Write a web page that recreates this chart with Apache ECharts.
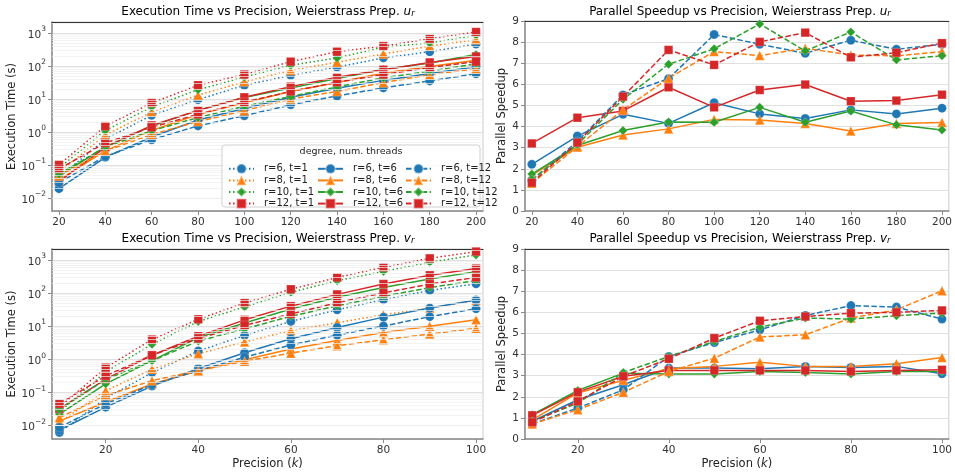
<!DOCTYPE html>
<html><head><meta charset="utf-8">
<script src="https://cdn.jsdelivr.net/npm/echarts@6/dist/echarts.min.js"></script>
<style>html,body{margin:0;padding:0;background:#fff}#c{width:955px;height:474px}</style>
</head><body><div id="c"></div><script>
// ---------- data ----------
const precisionU = [20, 40, 60, 80, 100, 120, 140, 160, 180, 200];
const precisionV = [10, 20, 30, 40, 50, 60, 70, 80, 90, 100];
const degrees = ['6', '8', '10', '12'];
const threads = ['1', '6', '12'];

// Execution time, Weierstrass prep. u_r
const uTime_r6_t1  = [0.042, 0.6, 3.2, 9.5, 26, 52, 92, 175, 270, 460];
const uTime_r8_t1  = [0.06, 0.8, 4.0, 13, 33, 73, 130, 230, 400, 620];
const uTime_r10_t1 = [0.08, 1.1, 5.7, 19, 46, 105, 175, 370, 500, 850];
const uTime_r12_t1 = [0.1, 1.5, 7.5, 26, 55, 135, 270, 400, 670, 1070];
const uTime_r6_t6  = [0.019, 0.17, 0.70, 2.3, 5.1, 11.3, 21, 36.5, 58.7, 94.5];
const uTime_r8_t6  = [0.035, 0.265, 1.11, 3.34, 7.6, 16.9, 31.3, 60.7, 96.4, 148];
const uTime_r10_t6 = [0.046, 0.355, 1.5, 4.5, 11.0, 21.4, 41.7, 78, 122.5, 221];
const uTime_r12_t6 = [0.031, 0.339, 1.58, 4.44, 11.2, 23.6, 45.1, 76.9, 128, 194];
const uTime_r6_t12  = [0.029, 0.18, 0.58, 1.52, 3.1, 6.6, 12.3, 21.6, 35.2, 58.2];
const uTime_r8_t12  = [0.046, 0.262, 0.835, 2.07, 4.37, 9.9, 16.9, 31.1, 54.4, 82];
const uTime_r10_t12 = [0.053, 0.349, 1.08, 2.73, 5.99, 11.85, 23.1, 43.6, 69.8, 115.6];
const uTime_r12_t12 = [0.075, 0.463, 1.38, 3.41, 7.95, 16.9, 32, 55, 89.3, 134.6];

// Parallel speedup, u_r
const uSpeed_r6_t6  = [2.21, 3.55, 4.58, 4.15, 5.13, 4.6, 4.38, 4.79, 4.6, 4.87];
const uSpeed_r8_t6  = [1.7, 3.02, 3.6, 3.89, 4.34, 4.31, 4.15, 3.79, 4.15, 4.19];
const uSpeed_r10_t6 = [1.75, 3.1, 3.81, 4.22, 4.2, 4.91, 4.2, 4.74, 4.08, 3.84];
const uSpeed_r12_t6 = [3.2, 4.42, 4.74, 5.86, 4.91, 5.73, 5.99, 5.2, 5.23, 5.51];
const uSpeed_r6_t12  = [1.45, 3.3, 5.5, 6.27, 8.36, 7.9, 7.47, 8.09, 7.66, 7.9];
const uSpeed_r8_t12  = [1.31, 3.05, 4.79, 6.29, 7.55, 7.36, 7.71, 7.39, 7.35, 7.55];
const uSpeed_r10_t12 = [1.5, 3.15, 5.29, 6.95, 7.68, 8.86, 7.58, 8.48, 7.16, 7.35];
const uSpeed_r12_t12 = [1.34, 3.24, 5.42, 7.63, 6.92, 8.01, 8.45, 7.28, 7.5, 7.95];

// Execution time, Weierstrass prep. v_r
const vTime_r6_t1  = [0.006, 0.065, 0.39, 1.75, 5.2, 13.8, 31, 63, 120, 190];
const vTime_r8_t1  = [0.012, 0.11, 0.49, 1.45, 3.3, 7.3, 12.6, 22, 35, 60];
const vTime_r10_t1 = [0.025, 0.41, 2.8, 13.7, 38, 105, 235, 450, 850, 1420];
const vTime_r12_t1 = [0.035, 0.55, 3.9, 16, 50, 130, 295, 600, 1120, 1800];
const vTime_r6_t6  = [0.0071, 0.035, 0.152, 0.52, 1.55, 4.14, 9.0, 18.6, 34.9, 61.5];
const vTime_r8_t6  = [0.0132, 0.05, 0.176, 0.435, 0.96, 2.01, 3.66, 6.4, 9.8, 15.5];
const vTime_r10_t6 = [0.0217, 0.178, 0.9, 4.45, 12.3, 32.8, 74.6, 146, 266, 444];
const vTime_r12_t6 = [0.031, 0.248, 1.31, 4.92, 15.4, 40, 90.8, 187.5, 345, 549];
const vTime_r6_t12  = [0.0085, 0.044, 0.167, 0.45, 1.14, 2.67, 5.3, 10.0, 19.2, 33.5];
const vTime_r8_t12  = [0.0169, 0.079, 0.222, 0.453, 0.86, 1.51, 2.55, 3.84, 5.72, 8.55];
const vTime_r10_t12 = [0.0298, 0.241, 0.89, 3.5, 8.2, 19.8, 41, 79, 146, 238];
const vTime_r12_t12 = [0.044, 0.309, 1.31, 4.21, 10.5, 23.2, 50.9, 100.7, 187, 296];

// Parallel speedup, v_r
const vSpeed_r6_t6  = [0.84, 1.86, 2.57, 3.36, 3.36, 3.33, 3.44, 3.39, 3.44, 3.09];
const vSpeed_r8_t6  = [0.91, 2.18, 2.78, 3.33, 3.44, 3.63, 3.44, 3.44, 3.56, 3.86];
const vSpeed_r10_t6 = [1.15, 2.3, 3.12, 3.08, 3.08, 3.2, 3.15, 3.08, 3.2, 3.2];
const vSpeed_r12_t6 = [1.12, 2.22, 2.97, 3.25, 3.25, 3.25, 3.25, 3.2, 3.25, 3.28];
const vSpeed_r6_t12  = [0.71, 1.47, 2.33, 3.91, 4.57, 5.17, 5.85, 6.32, 6.25, 5.68];
const vSpeed_r8_t12  = [0.71, 1.39, 2.21, 3.2, 3.83, 4.83, 4.94, 5.73, 6.12, 7.02];
const vSpeed_r10_t12 = [0.84, 1.7, 3.15, 3.91, 4.62, 5.3, 5.73, 5.68, 5.84, 5.96];
const vSpeed_r12_t12 = [0.79, 1.78, 2.97, 3.8, 4.78, 5.6, 5.8, 5.96, 6.0, 6.09];

const uTime = {
  '6': {'1': uTime_r6_t1, '6': uTime_r6_t6, '12': uTime_r6_t12},
  '8': {'1': uTime_r8_t1, '6': uTime_r8_t6, '12': uTime_r8_t12},
  '10': {'1': uTime_r10_t1, '6': uTime_r10_t6, '12': uTime_r10_t12},
  '12': {'1': uTime_r12_t1, '6': uTime_r12_t6, '12': uTime_r12_t12}
};
const vTime = {
  '6': {'1': vTime_r6_t1, '6': vTime_r6_t6, '12': vTime_r6_t12},
  '8': {'1': vTime_r8_t1, '6': vTime_r8_t6, '12': vTime_r8_t12},
  '10': {'1': vTime_r10_t1, '6': vTime_r10_t6, '12': vTime_r10_t12},
  '12': {'1': vTime_r12_t1, '6': vTime_r12_t6, '12': vTime_r12_t12}
};
const uSpeed = {
  '6': {'6': uSpeed_r6_t6, '12': uSpeed_r6_t12},
  '8': {'6': uSpeed_r8_t6, '12': uSpeed_r8_t12},
  '10': {'6': uSpeed_r10_t6, '12': uSpeed_r10_t12},
  '12': {'6': uSpeed_r12_t6, '12': uSpeed_r12_t12}
};
const vSpeed = {
  '6': {'6': vSpeed_r6_t6, '12': vSpeed_r6_t12},
  '8': {'6': vSpeed_r8_t6, '12': vSpeed_r8_t12},
  '10': {'6': vSpeed_r10_t6, '12': vSpeed_r10_t12},
  '12': {'6': vSpeed_r12_t6, '12': vSpeed_r12_t12}
};

// ---------- styles ----------
const FONT = 'DejaVu Sans';
const colorOf = {'6': '#1f77b4', '8': '#ff7f0e', '10': '#2ca02c', '12': '#d62728'};
const symbolOf = {'6': 'circle', '8': 'triangle', '10': 'diamond', '12': 'rect'};
const symSizeOf = {'6': 9, '8': 9.5, '10': 9, '12': 8.5};
const dashOf = {'1': [1.5, 2.5], '6': 'solid', '12': [5.5, 2.4]};
const nameOf = (r, t) => 'r=' + r + ', t=' + t;

function lineSeries(r, t, xs, ys, idx) {
  return {
    type: 'line', name: nameOf(r, t), xAxisIndex: idx, yAxisIndex: idx,
    data: xs.map((x, i) => [x, ys[i]]),
    symbol: symbolOf[r], symbolSize: symSizeOf[r], showSymbol: true,
    lineStyle: {color: colorOf[r], width: 1.5, type: dashOf[t]},
    itemStyle: {color: colorOf[r], borderColor: 'rgba(255,255,255,0.35)', borderWidth: 0.6},
    emphasis: {disabled: true}, z: 3
  };
}
function minorGrid(idx, lo, hi) {
  const d = [];
  for (let e = -3; e <= 3; e++) for (let m = 2; m <= 9; m++) {
    const v = m * Math.pow(10, e);
    if (v > lo && v < hi) d.push({yAxis: v});
  }
  return {type: 'line', name: '_minor' + idx, xAxisIndex: idx, yAxisIndex: idx, data: [], z: 1,
    markLine: {silent: true, symbol: ['none', 'none'], label: {show: false}, animation: false,
      lineStyle: {color: '#eeeeee', width: 0.7, type: 'solid'}, data: d}};
}

const series = [];
series.push(minorGrid(0, 0.004, 2150));
series.push(minorGrid(2, 0.0038, 2150));
threads.forEach(t => degrees.forEach(r => series.push(lineSeries(r, t, precisionU, uTime[r][t], 0))));
['6', '12'].forEach(t => degrees.forEach(r => series.push(lineSeries(r, t, precisionU, uSpeed[r][t], 1))));
threads.forEach(t => degrees.forEach(r => series.push(lineSeries(r, t, precisionV, vTime[r][t], 2))));
['6', '12'].forEach(t => degrees.forEach(r => series.push(lineSeries(r, t, precisionV, vSpeed[r][t], 3))));

const tickLabel = {fontFamily: FONT, fontSize: 10.5, color: '#333'};
const spine = {show: true, lineStyle: {color: '#8a8a8a', width: 1.5}};
const tick = {show: true, length: 4, lineStyle: {color: '#8a8a8a', width: 1}};
const nameStyle = {fontFamily: FONT, fontSize: 11.5, color: '#222'};

function xAxisBottom(idx, min, max, withName) {
  return {type: 'value', gridIndex: idx, min: min, max: max, minInterval: 20, maxInterval: 20,
    axisLine: spine, axisTick: tick, splitLine: {show: false},
    axisLabel: Object.assign({margin: 6, showMinLabel: false, showMaxLabel: false}, tickLabel),
    name: withName ? '{a|Precision (}{i|k}{a|)}' : '', nameLocation: 'middle', nameGap: 19,
    nameTextStyle: {rich: {a: nameStyle, i: Object.assign({fontStyle: 'italic'}, nameStyle)}}};
}
function xAxisTop(idx, min, max) {
  return {type: 'value', gridIndex: idx, position: 'top', min: min, max: max,
    axisLine: {show: true, lineStyle: {color: '#333', width: 1}}, axisTick: {show: false},
    axisLabel: {show: false}, splitLine: {show: false}};
}
const supRich = {
  b: {fontFamily: FONT, fontSize: 10.5, color: '#333', padding: [4, 0, 0, 0]},
  s: {fontFamily: FONT, fontSize: 7.5, color: '#333', verticalAlign: 'top'}
};
function logY(idx, min, max) {
  return {type: 'log', logBase: 10, gridIndex: idx, min: min, max: max,
    axisLine: spine, axisTick: tick,
    splitLine: {show: true, lineStyle: {color: '#dddddd', width: 0.9}},
    axisLabel: {margin: 6, showMinLabel: false, showMaxLabel: false,
      formatter: v => {
        const e = Math.round(Math.log10(v));
        return '{b|10}{s|' + (e < 0 ? '\u2212' + (-e) : e) + '}';
      }, rich: supRich},
    name: 'Execution Time (s)', nameLocation: 'middle', nameGap: 27, nameTextStyle: nameStyle};
}
function speedY(idx) {
  return {type: 'value', gridIndex: idx, min: 0, max: 9, interval: 1,
    axisLine: spine, axisTick: tick,
    splitLine: {show: true, lineStyle: {color: '#dddddd', width: 0.9}},
    axisLabel: Object.assign({margin: 6}, tickLabel),
    name: 'Parallel Speedup', nameLocation: 'middle', nameGap: 16, nameTextStyle: nameStyle};
}

function titleText(x, y, main, v) {
  return {type: 'text', x: x, y: y, z: 10,
    style: {text: '{a|' + main + '}{i|' + v + '}{s|r}', align: 'center', verticalAlign: 'middle',
      rich: {
        a: {fontFamily: FONT, fontSize: 12, color: '#222'},
        i: {fontFamily: FONT, fontSize: 12, color: '#222', fontStyle: 'italic'},
        s: {fontFamily: FONT, fontSize: 8.5, color: '#222', fontStyle: 'italic', verticalAlign: 'bottom'}
      }}};
}

const legendCols = threads.map(t => degrees.map(r => nameOf(r, t)));
const legendLeft = [223, 312, 400];

const option = {
  animation: false,
  backgroundColor: '#ffffff',
  grid: [
    {left: 52, top: 22, width: 431, height: 189, show: true, borderColor: '#cccccc', borderWidth: 1},
    {left: 525, top: 21, width: 430, height: 190, show: true, borderColor: '#cccccc', borderWidth: 1},
    {left: 52, top: 249, width: 431, height: 190, show: true, borderColor: '#cccccc', borderWidth: 1},
    {left: 525, top: 249, width: 430, height: 190, show: true, borderColor: '#cccccc', borderWidth: 1}
  ],
  xAxis: [
    xAxisBottom(0, 17, 203, false), xAxisBottom(1, 17, 203, false),
    xAxisBottom(2, 8.4, 101.5, true), xAxisBottom(3, 8.4, 101.5, true),
    xAxisTop(0, 17, 203), xAxisTop(1, 17, 203), xAxisTop(2, 8.4, 101.5), xAxisTop(3, 8.4, 101.5)
  ],
  yAxis: [logY(0, 0.004, 2150), speedY(1), logY(2, 0.0038, 2150), speedY(3)],
  legend: legendCols.map((cols, k) => ({
    orient: 'vertical', left: legendLeft[k], top: 158, itemWidth: 25, itemHeight: 12, itemGap: 0,
    selectedMode: false, z: 60, data: cols,
    textStyle: {fontFamily: FONT, fontSize: 10, color: '#222', lineHeight: 10, padding: [0, 0, 0, 5]}
  })),
  graphic: [
    {type: 'rect', z: 50, shape: {x: 222, y: 145, width: 258, height: 62, r: 3},
      style: {fill: 'rgba(255,255,255,0.85)', stroke: '#d0d0d0', lineWidth: 1}},
    {type: 'text', z: 55, x: 351, y: 152,
      style: {text: 'degree, num. threads', align: 'center', verticalAlign: 'middle',
        font: '9.5px "DejaVu Sans"', fill: '#222'}},
    titleText(268, 12, 'Execution Time vs Precision, Weierstrass Prep. ', 'u'),
    titleText(740, 12, 'Parallel Speedup vs Precision, Weierstrass Prep. ', 'u'),
    titleText(268, 239, 'Execution Time vs Precision, Weierstrass Prep. ', 'v'),
    titleText(740, 239, 'Parallel Speedup vs Precision, Weierstrass Prep. ', 'v')
  ],
  series: series
};

const chart = echarts.init(document.getElementById('c'), null, {renderer: 'canvas'});
chart.setOption(option);
</script></body></html>
